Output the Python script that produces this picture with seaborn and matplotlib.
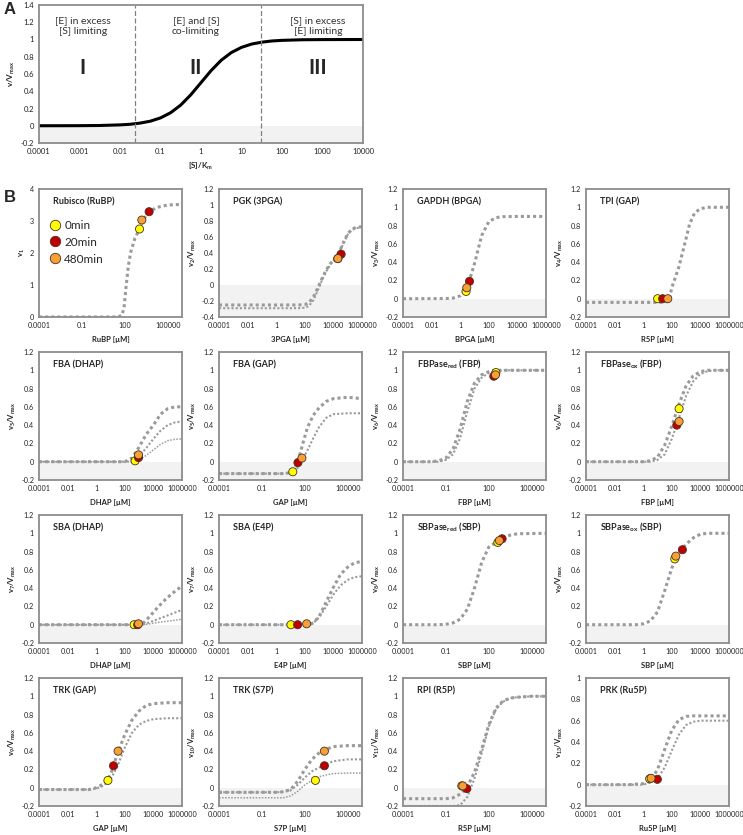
"""
Enzyme saturation figure: (A) generic Michaelis-Menten regimes, (B) per-enzyme
saturation curves of the Calvin-Benson cycle with measured substrate levels.
"""

import numpy as np
import pandas as pd
import matplotlib
matplotlib.use("Agg")
import matplotlib.pyplot as plt
import matplotlib.ticker as mticker
from matplotlib.lines import Line2D
import seaborn as sns


# ─── Data: panel A ────────────────────────────────────────────────────────────

A_LOGX = [-4, -3.5, -3, -2.5, -2, -1.75, -1.5, -1.25, -1, -0.75, -0.5, -0.25, 0,
          0.25, 0.5, 0.75, 1, 1.25, 1.5, 1.75, 2, 2.5, 3, 4]
A_Y = [0.0001, 0.0003, 0.001, 0.003, 0.01, 0.017, 0.031, 0.053, 0.091, 0.151, 0.24,
       0.36, 0.5, 0.64, 0.76, 0.849, 0.909, 0.947, 0.969, 0.983, 0.99, 0.997, 0.999, 1.0]
A_BOUNDS = [0.024, 31]
A_ROMAN = ["I", "II", "III"]
A_REGION_X = [0.0012, 0.75, 780]
A_NOTES = ["[E] in excess\n[S] limiting", "[E] and [S]\nco-limiting", "[S] in excess\n[E] limiting"]

# ─── Data: panel B (log10 of concentration in µM, curves share the knots) ───────

TIMES = ["0min", "20min", "480min"]
TIME_COLORS = ["#ffff00", "#c00000", "#f7a035"]

RUBISCO_LX = [-4, 1.5, 1.8, 1.95, 2.1, 2.25, 2.4, 2.7, 3.0, 3.3, 3.7, 4.2, 5.0, 6.0]
RUBISCO_Y = [[0, 0, 0.05, 0.3, 1.0, 1.6, 2.0, 2.45, 2.72, 3.05, 3.28, 3.42, 3.5, 3.52]]
RUBISCO_PTS_LX = [3.03, 3.7, 3.19]
RUBISCO_PTS_Y = [2.75, 3.29, 3.03]

PGK_LX = [-4, 1.5, 2.0, 2.3, 2.6, 2.9, 3.2, 3.5, 3.8, 4.1, 4.4, 4.7, 5.0, 5.3, 5.6, 6.0]
PGK_Y = [[-0.25, -0.25, -0.245, -0.22, -0.15, -0.04, 0.08, 0.19, 0.27, 0.33, 0.41, 0.53, 0.64, 0.70, 0.72, 0.73],
         [-0.29, -0.29, -0.285, -0.26, -0.19, -0.07, 0.06, 0.17, 0.26, 0.32, 0.40, 0.52, 0.63, 0.69, 0.71, 0.72]]
PGK_PTS_LX = [4.31, 4.54, 4.31]
PGK_PTS_Y = [0.33, 0.385, 0.33]

GAPDH_LX = [-4, -1, -0.5, 0, 0.5, 1.0, 1.5, 2.0, 2.5, 3.0, 4.0, 6.0]
GAPDH_Y = [[0, 0.002, 0.007, 0.032, 0.128, 0.383, 0.69, 0.843, 0.887, 0.897, 0.9, 0.9]]
GAPDH_PTS_LX = [0.41, 0.65, 0.46]
GAPDH_PTS_Y = [0.08, 0.19, 0.12]

TPI_LX = [-4, 1.5, 1.8, 2.0, 2.5, 3.0, 3.25, 3.6, 4.0, 4.5, 6.0]
TPI_Y = [[-0.04, -0.04, -0.02, 0.12, 0.35, 0.66, 0.82, 0.94, 0.985, 1.0, 1.0]]
TPI_PTS_LX = [1.01, 1.36, 1.72]
TPI_PTS_Y = [0.0, 0.0, 0.0]

FBA_DHAP_LX = [-4, 2.0, 2.5, 3.0, 3.5, 4.0, 4.5, 5.0, 5.5, 6.0]
FBA_DHAP_Y = [[0, 0, 0.04, 0.16, 0.30, 0.40, 0.52, 0.58, 0.60, 0.60],
              [0, 0, 0.01, 0.06, 0.15, 0.25, 0.34, 0.40, 0.43, 0.44],
              [0, 0, 0.0, 0.02, 0.07, 0.13, 0.19, 0.23, 0.245, 0.25]]
FBA_DHAP_PTS_LX = [2.72, 2.96, 2.96]
FBA_DHAP_PTS_Y = [0.01, 0.045, 0.075]

FBA_GAP_LX = [-4, 0.5, 1.0, 1.3, 1.6, 1.9, 2.2, 2.6, 3.0, 3.5, 4.0, 5.0, 6.0]
FBA_GAP_Y = [[-0.13, -0.13, -0.12, -0.08, 0.05, 0.22, 0.38, 0.51, 0.59, 0.66, 0.69, 0.705, 0.69],
             [-0.13, -0.13, -0.12, -0.10, -0.05, 0.04, 0.13, 0.26, 0.38, 0.48, 0.52, 0.53, 0.53]]
FBA_GAP_PTS_LX = [1.16, 1.52, 1.8]
FBA_GAP_PTS_Y = [-0.11, -0.01, 0.04]

FBPASE_RED_LX = [-4, -2, -1.5, -1.0, -0.5, 0, 0.5, 1.0, 1.5, 2.0, 2.5, 3.0, 6.0]
FBPASE_RED_Y = [[0, 0, 0.01, 0.04, 0.14, 0.36, 0.66, 0.86, 0.95, 0.985, 1.0, 1.0, 1.0],
                [0, 0, 0, 0.02, 0.08, 0.26, 0.55, 0.80, 0.92, 0.97, 0.99, 1.0, 1.0]]
FBPASE_RED_PTS_LX = [2.5, 2.35, 2.47]
FBPASE_RED_PTS_Y = [0.975, 0.935, 0.95]

FBPASE_OX_LX = [-4, 0, 0.5, 1.0, 1.5, 2.0, 2.5, 3.0, 3.5, 4.0, 4.5, 5.0, 6.0]
FBPASE_OX_Y = [[0, 0, 0.01, 0.05, 0.18, 0.39, 0.63, 0.83, 0.94, 0.985, 1.0, 1.0, 1.0],
               [0, 0, 0, 0.02, 0.08, 0.25, 0.48, 0.72, 0.88, 0.96, 0.99, 1.0, 1.0]]
FBPASE_OX_PTS_LX = [2.51, 2.35, 2.51]
FBPASE_OX_PTS_Y = [0.58, 0.40, 0.44]

SBA_DHAP_LX = [-4, 3.0, 3.3, 3.8, 4.3, 4.8, 5.3, 5.8, 6.0]
SBA_DHAP_Y = [[0, 0, 0.02, 0.10, 0.19, 0.27, 0.34, 0.40, 0.43],
              [0, 0, 0.005, 0.03, 0.06, 0.09, 0.12, 0.15, 0.16],
              [0, 0, 0, 0.01, 0.025, 0.035, 0.045, 0.055, 0.06]]
SBA_DHAP_PTS_LX = [2.65, 2.9, 2.96]
SBA_DHAP_PTS_Y = [0.0, 0.0, 0.01]

SBA_E4P_LX = [-4, 2.3, 2.6, 3.0, 3.5, 4.0, 4.5, 5.0, 5.5, 6.0]
SBA_E4P_Y = [[0, 0, 0.02, 0.09, 0.25, 0.41, 0.55, 0.63, 0.68, 0.69],
             [0, 0, 0.02, 0.08, 0.20, 0.33, 0.43, 0.49, 0.52, 0.53]]
SBA_E4P_PTS_LX = [1.03, 1.5, 2.13]
SBA_E4P_PTS_Y = [0.0, 0.0, 0.01]

SBPASE_RED_LX = [-4, -1.5, -1.0, -0.5, 0, 0.5, 1.0, 1.5, 2.0, 2.5, 3.0, 3.5, 4.0, 6.0]
SBPASE_RED_Y = [[0, 0, 0.005, 0.02, 0.06, 0.17, 0.40, 0.68, 0.85, 0.9, 0.95, 0.98, 0.995, 1.0]]
SBPASE_RED_PTS_LX = [2.63, 2.93, 2.74]
SBPASE_RED_PTS_Y = [0.90, 0.94, 0.92]

SBPASE_OX_LX = [-4, -0.5, 0, 0.5, 1.0, 1.5, 2.0, 2.5, 3.0, 3.5, 4.0, 4.5, 6.0]
SBPASE_OX_Y = [[0, 0, 0.01, 0.04, 0.14, 0.37, 0.62, 0.79, 0.88, 0.95, 0.99, 1.0, 1.0]]
SBPASE_OX_PTS_LX = [2.21, 2.74, 2.28]
SBPASE_OX_PTS_Y = [0.72, 0.82, 0.75]

TRK_GAP_LX = [-4, -0.5, 0, 0.5, 1.0, 1.5, 2.0, 2.5, 3.0, 3.5, 4.0, 5.0, 6.0]
TRK_GAP_Y = [[-0.02, -0.02, 0.0, 0.04, 0.14, 0.38, 0.58, 0.74, 0.84, 0.9, 0.92, 0.93, 0.93],
             [-0.02, -0.02, -0.01, 0.02, 0.09, 0.24, 0.44, 0.60, 0.69, 0.73, 0.75, 0.76, 0.76]]
TRK_GAP_PTS_LX = [0.82, 1.21, 1.53]
TRK_GAP_PTS_Y = [0.08, 0.24, 0.40]

TRK_S7P_LX = [-4, 0, 0.5, 1.0, 1.5, 2.0, 2.5, 3.0, 3.5, 4.0, 5.0, 6.0]
TRK_S7P_Y = [[-0.05, -0.05, -0.045, -0.02, 0.07, 0.20, 0.31, 0.38, 0.42, 0.45, 0.46, 0.46],
             [-0.05, -0.05, -0.045, -0.03, 0.03, 0.11, 0.18, 0.22, 0.26, 0.29, 0.31, 0.31],
             [-0.11, -0.11, -0.11, -0.09, -0.04, 0.03, 0.08, 0.12, 0.14, 0.155, 0.16, 0.16]]
TRK_S7P_PTS_LX = [2.74, 3.37, 3.37]
TRK_S7P_PTS_Y = [0.08, 0.24, 0.40]

RPI_LX = [-4, -1.0, -0.5, 0, 0.5, 1.0, 1.5, 2.0, 2.5, 3.0, 3.5, 4.0, 5.0, 6.0]
RPI_Y = [[-0.12, -0.12, -0.11, -0.07, 0.01, 0.17, 0.42, 0.69, 0.87, 0.95, 0.98, 0.99, 1.0, 1.0],
         [-0.2, -0.2, -0.2, -0.19, -0.1, 0.1, 0.38, 0.67, 0.86, 0.94, 0.98, 0.99, 1.0, 1.0]]
RPI_PTS_LX = [0.11, 0.46, 0.18]
RPI_PTS_Y = [0.02, -0.01, 0.02]

PRK_LX = [-4, -1.0, 0, 0.5, 1.0, 1.5, 2.0, 2.5, 3.0, 3.5, 4.0, 6.0]
PRK_Y = [[0, 0, 0.01, 0.04, 0.14, 0.33, 0.51, 0.61, 0.64, 0.645, 0.645, 0.645],
         [0, 0, 0.0, 0.02, 0.06, 0.16, 0.32, 0.47, 0.56, 0.59, 0.60, 0.60]]
PRK_PTS_LX = [0.45, 0.99, 0.55]
PRK_PTS_Y = [0.055, 0.05, 0.06]

# x tick sets (µM)
XT_2DEC = [1e-4, 1e-2, 1, 1e2, 1e4, 1e6]
XT_3DEC = [1e-4, 1e-1, 1e2, 1e5]

PANELS = [
    # title, xlabel, ylabel, ylim, xticks, knots, curves, pts_lx, pts_y
    ("Rubisco (RuBP)", "RuBP [µM]", r"v$_{\mathbf{1}}$", (0, 4, 1), XT_3DEC,
     RUBISCO_LX, RUBISCO_Y, RUBISCO_PTS_LX, RUBISCO_PTS_Y),
    ("PGK (3PGA)", "3PGA [µM]", r"v$_{\mathbf{2}}$/V$_{\mathbf{max}}$", (-0.4, 1.2, 0.2), XT_2DEC,
     PGK_LX, PGK_Y, PGK_PTS_LX, PGK_PTS_Y),
    ("GAPDH (BPGA)", "BPGA [µM]", r"v$_{\mathbf{3}}$/V$_{\mathbf{max}}$", (-0.2, 1.2, 0.2), XT_2DEC,
     GAPDH_LX, GAPDH_Y, GAPDH_PTS_LX, GAPDH_PTS_Y),
    ("TPI (GAP)", "R5P [µM]", r"v$_{\mathbf{4}}$/V$_{\mathbf{max}}$", (-0.2, 1.2, 0.2), XT_2DEC,
     TPI_LX, TPI_Y, TPI_PTS_LX, TPI_PTS_Y),
    ("FBA (DHAP)", "DHAP [µM]", r"v$_{\mathbf{5}}$/V$_{\mathbf{max}}$", (-0.2, 1.2, 0.2), XT_2DEC,
     FBA_DHAP_LX, FBA_DHAP_Y, FBA_DHAP_PTS_LX, FBA_DHAP_PTS_Y),
    ("FBA (GAP)", "GAP [µM]", r"v$_{\mathbf{5}}$/V$_{\mathbf{max}}$", (-0.2, 1.2, 0.2), XT_3DEC,
     FBA_GAP_LX, FBA_GAP_Y, FBA_GAP_PTS_LX, FBA_GAP_PTS_Y),
    (r"FBPase$_{\mathbf{red}}$ (FBP)", "FBP [µM]", r"v$_{\mathbf{6}}$/V$_{\mathbf{max}}$", (-0.2, 1.2, 0.2), XT_3DEC,
     FBPASE_RED_LX, FBPASE_RED_Y, FBPASE_RED_PTS_LX, FBPASE_RED_PTS_Y),
    (r"FBPase$_{\mathbf{ox}}$ (FBP)", "FBP [µM]", r"v$_{\mathbf{6}}$/V$_{\mathbf{max}}$", (-0.2, 1.2, 0.2), XT_2DEC,
     FBPASE_OX_LX, FBPASE_OX_Y, FBPASE_OX_PTS_LX, FBPASE_OX_PTS_Y),
    ("SBA (DHAP)", "DHAP [µM]", r"v$_{\mathbf{7}}$/V$_{\mathbf{max}}$", (-0.2, 1.2, 0.2), XT_2DEC,
     SBA_DHAP_LX, SBA_DHAP_Y, SBA_DHAP_PTS_LX, SBA_DHAP_PTS_Y),
    ("SBA (E4P)", "E4P [µM]", r"v$_{\mathbf{7}}$/V$_{\mathbf{max}}$", (-0.2, 1.2, 0.2), XT_2DEC,
     SBA_E4P_LX, SBA_E4P_Y, SBA_E4P_PTS_LX, SBA_E4P_PTS_Y),
    (r"SBPase$_{\mathbf{red}}$ (SBP)", "SBP [µM]", r"v$_{\mathbf{8}}$/V$_{\mathbf{max}}$", (-0.2, 1.2, 0.2), XT_3DEC,
     SBPASE_RED_LX, SBPASE_RED_Y, SBPASE_RED_PTS_LX, SBPASE_RED_PTS_Y),
    (r"SBPase$_{\mathbf{ox}}$ (SBP)", "SBP [µM]", r"v$_{\mathbf{8}}$/V$_{\mathbf{max}}$", (-0.2, 1.2, 0.2), XT_2DEC,
     SBPASE_OX_LX, SBPASE_OX_Y, SBPASE_OX_PTS_LX, SBPASE_OX_PTS_Y),
    ("TRK (GAP)", "GAP [µM]", r"v$_{\mathbf{9}}$/V$_{\mathbf{max}}$", (-0.2, 1.2, 0.2), XT_2DEC,
     TRK_GAP_LX, TRK_GAP_Y, TRK_GAP_PTS_LX, TRK_GAP_PTS_Y),
    ("TRK (S7P)", "S7P [µM]", r"v$_{\mathbf{10}}$/V$_{\mathbf{max}}$", (-0.2, 1.2, 0.2), XT_3DEC,
     TRK_S7P_LX, TRK_S7P_Y, TRK_S7P_PTS_LX, TRK_S7P_PTS_Y),
    ("RPI (R5P)", "R5P [µM]", r"v$_{\mathbf{11}}$/V$_{\mathbf{max}}$", (-0.2, 1.2, 0.2), XT_3DEC,
     RPI_LX, RPI_Y, RPI_PTS_LX, RPI_PTS_Y),
    ("PRK (Ru5P)", "Ru5P [µM]", r"v$_{\mathbf{13}}$/V$_{\mathbf{max}}$", (-0.2, 1.0, 0.2), XT_2DEC,
     PRK_LX, PRK_Y, PRK_PTS_LX, PRK_PTS_Y),
]

# ─── Style ────────────────────────────────────────────────────────────────────

sns.set_style("white")
plt.rcParams["font.family"] = ["Lato", "DejaVu Sans"]
plt.rcParams["mathtext.fontset"] = "custom"
plt.rcParams["mathtext.rm"] = "Lato"
plt.rcParams["mathtext.it"] = "Lato:italic"
plt.rcParams["mathtext.bf"] = "Lato:bold"

W, H = 743, 835
SPINE = "#8c8c8c"
CURVE = "#9a9a9a"
SHADE = "#f2f2f2"
CURVE_LW = [2.2, 1.5, 1.1]

B_LEFTS = [39, 219, 403, 586]
B_TOPS = [189, 352, 515, 678]
B_W, B_H = 143, 128


def px_rect(left, top, w, h):
    return [left / W, 1 - (top + h) / H, w / W, h / H]


def num_fmt(v, _pos=None):
    if v >= 1:
        return f"{int(round(v))}"
    return f"{v:.4f}".rstrip("0").rstrip(".")


def y_fmt(v, _pos=None):
    s = f"{v:.1f}".rstrip("0").rstrip(".")
    return "0" if s in ("-0", "0") else s


def style_axes(ax, labelsize):
    for sp in ax.spines.values():
        sp.set_color(SPINE)
        sp.set_linewidth(1.3)
    ax.tick_params(axis="both", labelsize=labelsize, length=2, width=0.6,
                   color=SPINE, pad=1.5, labelcolor="#222222")
    ax.xaxis.set_minor_locator(mticker.NullLocator())


fig = plt.figure(figsize=(W / 100, H / 100), dpi=100)

# ─── Panel A ──────────────────────────────────────────────────────────────────

ax = fig.add_axes(px_rect(39, 5, 324, 138))
ax.set_xscale("log")
ax.axhspan(-0.2, 0, color=SHADE, lw=0, zorder=0)
sns.lineplot(x=10.0 ** np.array(A_LOGX), y=A_Y, ax=ax, color="black", lw=2.2,
             estimator=None, sort=False)
for b in A_BOUNDS:
    ax.axvline(b, color="#808080", lw=0.9, ls=(0, (4, 2)))
for xr, roman, note in zip(A_REGION_X, A_ROMAN, A_NOTES):
    ax.text(xr, 0.67, roman, ha="center", va="center", fontsize=15, fontweight="bold")
    ax.text(xr, 1.16, note, ha="center", va="center", fontsize=7.5, linespacing=1.25,
            color="#333333")
ax.set_xlim(1e-4, 1e4)
ax.set_ylim(-0.2, 1.4)
ax.xaxis.set_major_locator(mticker.FixedLocator([10.0 ** k for k in range(-4, 5)]))
ax.xaxis.set_major_formatter(mticker.FuncFormatter(num_fmt))
ax.yaxis.set_major_locator(mticker.MultipleLocator(0.2))
ax.yaxis.set_major_formatter(mticker.FuncFormatter(y_fmt))
style_axes(ax, 5.5)
ax.set_xlabel(r"[S]/K$_{\mathbf{m}}$", fontsize=5.8, fontweight="bold", labelpad=4)
ax.set_ylabel(r"v/V$_{\mathbf{max}}$", fontsize=5.8, fontweight="bold", labelpad=3)

fig.text(4 / W, 1 - 10 / H, "A", fontsize=12, fontweight="bold", va="center",
         family=["Liberation Sans", "DejaVu Sans"])
fig.text(4 / W, 1 - 197 / H, "B", fontsize=12, fontweight="bold", va="center",
         family=["Liberation Sans", "DejaVu Sans"])

# ─── Panel B ──────────────────────────────────────────────────────────────────

palette = dict(zip(TIMES, TIME_COLORS))

for i, (title, xlab, ylab, ylim, xticks, lx, curves, p_lx, p_y) in enumerate(PANELS):
    r, c = divmod(i, 4)
    ax = fig.add_axes(px_rect(B_LEFTS[c], B_TOPS[r], B_W, B_H))
    ax.set_xscale("log")
    ymin, ymax, ystep = ylim
    if ymin < 0:
        ax.axhspan(ymin, 0, color=SHADE, lw=0, zorder=0)

    x = 10.0 ** np.array(lx)
    for k, y in enumerate(curves):
        sns.lineplot(x=x, y=y, ax=ax, color=CURVE, lw=CURVE_LW[k],
                     linestyle=(0, (1, 1)), estimator=None, sort=False)

    pts = pd.DataFrame({"x": 10.0 ** np.array(p_lx), "y": p_y, "time": TIMES})
    sns.scatterplot(data=pts, x="x", y="y", hue="time", hue_order=TIMES,
                    palette=palette, s=34, edgecolor="#4a3020", linewidth=0.6,
                    legend=False, ax=ax, zorder=4)

    ax.set_xlim(1e-4, 1e6)
    ax.set_ylim(ymin, ymax)
    ax.xaxis.set_major_locator(mticker.FixedLocator(xticks))
    ax.xaxis.set_major_formatter(mticker.FuncFormatter(num_fmt))
    ax.yaxis.set_major_locator(mticker.MultipleLocator(ystep))
    ax.yaxis.set_major_formatter(mticker.FuncFormatter(y_fmt))
    style_axes(ax, 5.2)
    ax.set_xlabel(xlab, fontsize=5.5, fontweight="bold", labelpad=5)
    ax.set_ylabel(ylab, fontsize=5.5, fontweight="bold", labelpad=2)
    ax.text(0.1, 0.9, title, transform=ax.transAxes, ha="left", va="center",
            fontsize=6.5, fontweight="bold")

    if i == 0:
        handles = [Line2D([], [], ls="", marker="o", markersize=7.5, markerfacecolor=col,
                          markeredgecolor="#4a3020", markeredgewidth=0.6)
                   for col in TIME_COLORS]
        ax.legend(handles, TIMES, loc="upper left", bbox_to_anchor=(0.07, 0.76),
                  frameon=False, fontsize=8.5, labelspacing=0.5, handletextpad=0.3,
                  handlelength=1.0, borderpad=0, borderaxespad=0)

fig.savefig("out.png", dpi=100)
